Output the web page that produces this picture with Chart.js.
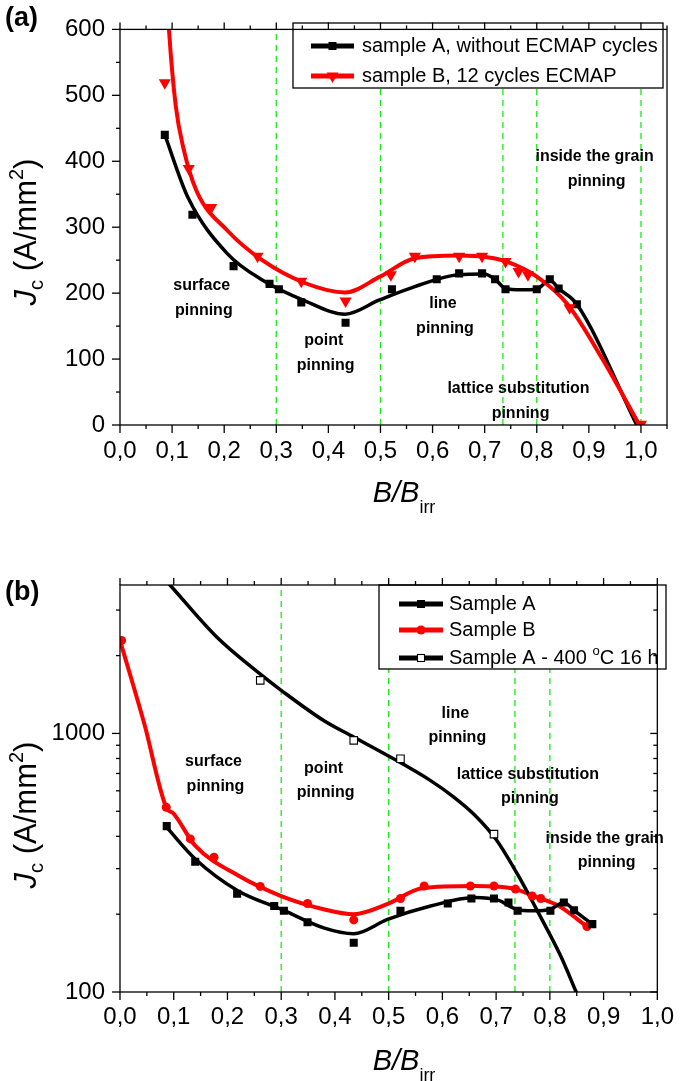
<!DOCTYPE html>
<html><head><meta charset="utf-8">
<script src="https://cdn.jsdelivr.net/npm/chart.js@4"></script>
<style>
html,body{margin:0;padding:0;background:#fff;}
#wrap{position:relative;width:685px;height:1081px;overflow:hidden;background:#fff;}
canvas{position:absolute;left:0;display:block;}
#ca{top:0;}
#cb{top:540px;}
</style></head><body>
<div id="wrap">
<canvas id="ca" width="685" height="540"></canvas>
<canvas id="cb" width="685" height="541"></canvas>
</div>
<script>
// ================= DATA =================
// Panel (a) — linear Jc scale
const a_xTickVals   = [0,0.1,0.2,0.3,0.4,0.5,0.6,0.7,0.8,0.9,1.0];
const a_xTickLabels = ['0,0','0,1','0,2','0,3','0,4','0,5','0,6','0,7','0,8','0,9','1,0'];
const a_yTickVals   = [0,100,200,300,400,500,600];
const a_yTickLabels = ['0','100','200','300','400','500','600'];
const a_regionBounds = [0.3,0.5,0.735,0.8,1.0];

const a_sampleA_x = [0.086,0.139,0.218,0.287,0.305,0.348,0.433,0.522,0.608,0.651,0.695,0.720,0.740,0.800,0.825,0.842,0.877];
const a_sampleA_y = [440,319,241,214,206,186,155,206,221,230,230,221,206,206,221,207,183];
const a_sampleB_x = [0.086,0.132,0.175,0.264,0.348,0.433,0.520,0.566,0.651,0.695,0.740,0.765,0.783,0.863,1.0];
const a_sampleB_y = [519,389,330,256,218,188,228,256,256,256,248,233,228,178,1];

const a_fitA_x = [0.086,0.1305,0.206,0.273,0.356,0.432,0.499,0.566,0.649,0.699,0.720,0.740,0.770,0.800,0.825,0.842,0.877,0.992];
const a_fitA_y = [440,345,260,220,188,168,190,210,228,229,221,207,205,206,220,207,183,0];
const a_fitB_x = [0.090,0.094,0.107,0.122,0.147,0.206,0.273,0.356,0.432,0.499,0.566,0.649,0.708,0.741,0.800,0.859,0.926,0.997];
const a_fitB_y = [660,600,484,419,355,295,250,215,201,225,253,257,254,248,225,183,100,0];

const a_legendLabels = ['sample A, without ECMAP cycles','sample B, 12 cycles ECMAP'];
const a_regionLabels = [['surface','pinning'],['point','pinning'],['line','pinning'],['lattice substitution','pinning'],['inside the grain','pinning']];

// Panel (b) — logarithmic Jc scale
const b_xTickVals   = [0,0.1,0.2,0.3,0.4,0.5,0.6,0.7,0.8,0.9,1.0];
const b_xTickLabels = ['0,0','0,1','0,2','0,3','0,4','0,5','0,6','0,7','0,8','0,9','1,0'];
const b_yTickVals   = [100,1000];
const b_yTickLabels = ['100','1000'];
const b_yMinorVals  = [200,300,400,500,600,700,800,900,2000,3000];
const b_regionBounds = [0.3,0.5,0.735,0.8];

const b_sampleA_x = [0.087,0.140,0.218,0.287,0.305,0.349,0.435,0.522,0.610,0.654,0.696,0.723,0.740,0.801,0.826,0.845,0.879];
const b_sampleA_y = [438,319,240,215,206,186,155,206,220,230,230,222,206,206,222,207,183];
const b_sampleB_x = [0.003,0.086,0.131,0.175,0.261,0.349,0.435,0.522,0.566,0.652,0.696,0.736,0.767,0.783,0.869];
const b_sampleB_y = [2290,518,391,332,256,220,190,230,257,257,257,250,235,230,179];
const b_sampleC_x = [0.261,0.435,0.522,0.696];
const b_sampleC_y = [1604,940,798,408];

const b_fitA_x = [0.087,0.140,0.220,0.300,0.379,0.435,0.498,0.578,0.660,0.705,0.737,0.770,0.801,0.826,0.845,0.879];
const b_fitA_y = [433,327,246,209,177,168,191,215,232,226,209,206,209,222,207,183];
const b_fitB_x = [0.000,0.045,0.086,0.100,0.140,0.220,0.300,0.379,0.435,0.498,0.562,0.660,0.729,0.777,0.817,0.869];
const b_fitB_y = [2290,1094,518,489,368,282,235,209,200,219,252,257,252,232,215,179];
const b_fitC_x = [0.070,0.093,0.180,0.260,0.300,0.379,0.435,0.498,0.578,0.620,0.660,0.700,0.740,0.780,0.820,0.849,0.870];
const b_fitC_y = [4230,3750,2360,1702,1468,1122,968,822,657,570,484,389,285,200,138,100,79];

const b_legendLabels = ['Sample A','Sample B','Sample A - 400 '];
const b_regionLabels = [['surface','pinning'],['point','pinning'],['line','pinning'],['lattice substitution','pinning'],['inside the grain','pinning']];

// ================= RENDERING =================
const FONT = "'Liberation Sans', Arial, Helvetica, sans-serif";
Chart.defaults.font.family = FONT;
Chart.defaults.color = '#000';

const pts = (xs, ys) => xs.map((x, i) => ({x: x, y: ys[i]}));
const GREEN = '#14ee14';

function line(ctx, x0, y0, x1, y1) { ctx.beginPath(); ctx.moveTo(x0, y0); ctx.lineTo(x1, y1); ctx.stroke(); }

function marker(ctx, kind, x, y, color) {
  ctx.save();
  ctx.fillStyle = color; ctx.strokeStyle = color;
  if (kind === 'square') { ctx.fillRect(x - 4, y - 4, 8, 8); }
  else if (kind === 'tri') { ctx.beginPath(); ctx.moveTo(x - 6, y - 3.5); ctx.lineTo(x + 6, y - 3.5); ctx.lineTo(x, y + 7); ctx.closePath(); ctx.fill(); }
  else if (kind === 'circle') { ctx.beginPath(); ctx.arc(x, y, 4.5, 0, Math.PI * 2); ctx.fill(); }
  else if (kind === 'open') { ctx.fillStyle = '#fff'; ctx.fillRect(x - 3.5, y - 3.5, 7, 7); ctx.strokeStyle = '#000'; ctx.lineWidth = 1.1; ctx.strokeRect(x - 3.5, y - 3.5, 7, 7); }
  ctx.restore();
}

function drawLegend(ctx, L) {
  ctx.save();
  ctx.fillStyle = '#fff';
  ctx.fillRect(L.x, L.y, L.w, L.h);
  ctx.strokeStyle = '#000'; ctx.lineWidth = 1.3;
  ctx.strokeRect(L.x, L.y, L.w, L.h);
  L.items.forEach(it => {
    ctx.strokeStyle = it.color; ctx.lineWidth = 5;
    line(ctx, L.lx0, it.y, L.lx1, it.y);
    marker(ctx, it.marker, (L.lx0 + L.lx1) / 2, it.y, it.color);
    ctx.fillStyle = '#000'; ctx.font = `20px ${FONT}`;
    ctx.textAlign = 'left'; ctx.textBaseline = 'middle';
    ctx.fillText(it.text, L.tx, it.y);
    if (it.sup) {
      let x = L.tx + ctx.measureText(it.text).width;
      ctx.font = `13px ${FONT}`;
      ctx.fillText('o', x, it.y - 7);
      x += ctx.measureText('o').width;
      ctx.font = `20px ${FONT}`;
      ctx.fillText(it.sup, x, it.y);
    }
  });
  ctx.restore();
}

function drawYTitle(ctx, cx, cy) {
  ctx.save();
  ctx.translate(cx, cy);
  ctx.rotate(-Math.PI / 2);
  const parts = [
    {t: 'J', f: `italic 31px ${FONT}`, dy: 0},
    {t: 'c', f: `20px ${FONT}`, dy: 7},
    {t: ' (A/mm', f: `31px ${FONT}`, dy: 0},
    {t: '2', f: `20px ${FONT}`, dy: -13},
    {t: ')', f: `31px ${FONT}`, dy: 0}
  ];
  let w = 0;
  parts.forEach(p => { ctx.font = p.f; p.w = ctx.measureText(p.t).width; w += p.w; });
  let x = -w / 2;
  ctx.fillStyle = '#000'; ctx.textBaseline = 'alphabetic'; ctx.textAlign = 'left';
  parts.forEach(p => { ctx.font = p.f; ctx.fillText(p.t, x, p.dy); x += p.w; });
  ctx.restore();
}

function drawXTitle(ctx, cx, by) {
  ctx.save();
  ctx.fillStyle = '#000'; ctx.textBaseline = 'alphabetic'; ctx.textAlign = 'left';
  ctx.font = `italic 29px ${FONT}`;
  const w1 = ctx.measureText('B/B').width;
  ctx.font = `18px ${FONT}`;
  const w2 = ctx.measureText('irr').width;
  const x = cx - (w1 + w2) / 2;
  ctx.font = `italic 29px ${FONT}`;
  ctx.fillText('B/B', x, by);
  ctx.font = `18px ${FONT}`;
  ctx.fillText('irr', x + w1, by + 11);
  ctx.restore();
}

function panelPlugin(P) {
  return {
    id: 'panel_' + P.name,
    afterDatasetsDraw(chart) {
      const ctx = chart.ctx, ca = chart.chartArea, xs = chart.scales.x, ys = chart.scales.y;
      // region labels
      ctx.save();
      ctx.fillStyle = '#000';
      ctx.font = `bold 16px ${FONT}`;
      ctx.textAlign = 'center'; ctx.textBaseline = 'middle';
      P.notePos.forEach((n, i) => {
        const px = xs.getPixelForValue(n[0]), py = ys.getPixelForValue(n[1]);
        const lines = P.noteTexts[i];
        lines.forEach((t, k) => ctx.fillText(t, px + k * 2, py + (k - (lines.length - 1) / 2) * P.noteGap));
      });
      ctx.restore();
      // legend
      drawLegend(ctx, P.legend);
      // frame
      ctx.save();
      ctx.strokeStyle = '#000'; ctx.lineWidth = 1.3;
      ctx.strokeRect(ca.left, ca.top, ca.right - ca.left, ca.bottom - ca.top);
      // x ticks (bottom + top, outward)
      for (let k = 0; k <= P.xMajorCount; k++) {
        const v = k / 10;
        const px = xs.getPixelForValue(v);
        line(ctx, px, ca.bottom, px, ca.bottom + 8);
        line(ctx, px, ca.top, px, ca.top - 7);
      }
      for (let k = 0; k < P.xMinorCount; k++) {
        const v = 0.05 + k / 10;
        const px = xs.getPixelForValue(v);
        line(ctx, px, ca.bottom, px, ca.bottom + 4);
        line(ctx, px, ca.top, px, ca.top - 4);
      }
      // y ticks
      P.yMajor.forEach(v => {
        const py = ys.getPixelForValue(v);
        line(ctx, ca.left, py, ca.left - 8, py);
        if (P.rightTicks) line(ctx, ca.right, py, ca.right - 7, py);
      });
      P.yMinor.forEach(v => {
        const py = ys.getPixelForValue(v);
        line(ctx, ca.left, py, ca.left - 4, py);
        if (P.rightTicks) line(ctx, ca.right, py, ca.right - 4, py);
      });
      ctx.restore();
      // axis titles & panel letter
      drawYTitle(ctx, P.yTitle[0], P.yTitle[1]);
      drawXTitle(ctx, P.xTitle[0], P.xTitle[1]);
      ctx.save();
      ctx.fillStyle = '#000'; ctx.font = `bold 27px ${FONT}`;
      ctx.textAlign = 'left'; ctx.textBaseline = 'middle';
      ctx.fillText(P.letter, 5, P.letterY);
      ctx.restore();
    }
  };
}

function boundaryDatasets(bounds, y0, y1) {
  return bounds.map(b => ({
    data: [{x: b, y: y0}, {x: b, y: y1}], showLine: true, borderColor: GREEN, borderWidth: 1.3,
    borderDash: [6, 5], pointRadius: 0, order: 20
  }));
}
function fitDs(xs, ys, color, order, w) {
  return {data: pts(xs, ys), showLine: true, borderColor: color, borderWidth: w,
    cubicInterpolationMode: 'monotone', pointRadius: 0, order: order};
}
function markDs(xs, ys, style, r, fill, stroke, bw, order, rot) {
  return {data: pts(xs, ys), showLine: false, pointStyle: style, pointRadius: r,
    pointBackgroundColor: fill, pointBorderColor: stroke, pointBorderWidth: bw,
    pointRotation: rot || 0, order: order};
}

function makeChart(id, P) {
  return new Chart(document.getElementById(id), {
    type: 'scatter',
    data: {datasets: P.datasets},
    options: {
      responsive: false, animation: false, events: [],
      layout: {padding: {top: P.padTop, right: P.padRight, left: 0, bottom: 0}},
      plugins: {legend: {display: false}, tooltip: {enabled: false}},
      scales: {
        x: {
          type: 'linear', min: 0, max: P.xMax,
          grid: {display: false, drawTicks: false}, border: {display: false},
          afterBuildTicks: s => { s.ticks = P.xTickVals.map(v => ({value: v})); },
          afterFit: s => { s.height = P.xAxisH; },
          ticks: {autoSkip: false, maxRotation: 0, padding: P.xPad, font: {size: 24}, color: '#000',
            callback: (v, i) => P.xTickLabels[i]}
        },
        y: {
          type: P.yType, min: P.yMin, max: P.yMax,
          grid: {display: false, drawTicks: false}, border: {display: false},
          afterBuildTicks: s => { s.ticks = P.yTickVals.map(v => ({value: v})); },
          afterFit: s => { s.width = 120; },
          ticks: {autoSkip: false, padding: 15, font: {size: 24}, color: '#000',
            callback: (v, i) => P.yTickLabels[i]}
        }
      }
    },
    plugins: [panelPlugin(P)]
  });
}

// ---- Panel (a) ----
const aMinor = [];
for (let k = 0; k < 6; k++) aMinor.push(50 + 100 * k);
makeChart('ca', {
  name: 'a', letter: '(a)', letterY: 19,
  padTop: 23, padRight: 18, xAxisH: 115, xPad: 12, xMax: 1.05,
  yType: 'linear', yMin: 0, yMax: 600,
  xTickVals: a_xTickVals, xTickLabels: a_xTickLabels,
  yTickVals: a_yTickVals, yTickLabels: a_yTickLabels,
  xMajorCount: 10, xMinorCount: 11, yMajor: a_yTickVals, yMinor: aMinor, rightTicks: false,
  noteTexts: a_regionLabels,
  notePos: [[0.157, 192], [0.391, 109], [0.620, 165], [0.765, 36], [0.911, 388]], noteGap: 25,
  legend: {x: 293, y: 23, w: 370, h: 65, lx0: 311, lx1: 354, tx: 362,
    items: [{y: 46, color: '#000', marker: 'square', text: a_legendLabels[0]},
            {y: 76, color: '#ff0000', marker: 'tri', text: a_legendLabels[1]}]},
  yTitle: [36, 232], xTitle: [404, 502],
  datasets: [
    markDs(a_sampleB_x, a_sampleB_y, 'triangle', 7, '#ff0000', '#ff0000', 0, 1, 180),
    markDs(a_sampleA_x, a_sampleA_y, 'rect', 5.7, '#000', '#000', 0, 2),
    fitDs(a_fitB_x, a_fitB_y, '#ff0000', 3, 4),
    fitDs(a_fitA_x, a_fitA_y, '#000', 4, 3.5),
    ...boundaryDatasets(a_regionBounds, 0, 600)
  ]
});

// ---- Panel (b) ----
makeChart('cb', {
  name: 'b', letter: '(b)', letterY: 53,
  padTop: 45, padRight: 16, xAxisH: 89, xPad: 11, xMax: 1.0,
  yType: 'logarithmic', yMin: 100, yMax: 3750,
  xTickVals: b_xTickVals, xTickLabels: b_xTickLabels,
  yTickVals: b_yTickVals, yTickLabels: b_yTickLabels,
  xMajorCount: 10, xMinorCount: 10, yMajor: b_yTickVals, yMinor: b_yMinorVals, rightTicks: true,
  noteTexts: b_regionLabels,
  notePos: [[0.174, 696], [0.379, 656], [0.624, 1074], [0.759, 624], [0.902, 352]], noteGap: 24.5,
  legend: {x: 379, y: 45, w: 287, h: 84, lx0: 399, lx1: 443, tx: 449,
    items: [{y: 64, color: '#000', marker: 'square', text: b_legendLabels[0]},
            {y: 90, color: '#ff0000', marker: 'circle', text: b_legendLabels[1]},
            {y: 118, color: '#000', marker: 'open', text: b_legendLabels[2], sup: 'C 16 h'}]},
  yTitle: [36, 275], xTitle: [404, 530],
  datasets: [
    markDs(b_sampleC_x, b_sampleC_y, 'rect', 5.3, '#fff', '#000', 1.1, 0),
    markDs(b_sampleA_x, b_sampleA_y, 'rect', 5.7, '#000', '#000', 0, 1),
    markDs(b_sampleB_x, b_sampleB_y, 'circle', 4.5, '#ff0000', '#ff0000', 0, 2),
    fitDs(b_fitC_x, b_fitC_y, '#000', 3, 3.5),
    fitDs(b_fitA_x, b_fitA_y, '#000', 4, 3.5),
    fitDs(b_fitB_x, b_fitB_y, '#ff0000', 5, 4),
    ...boundaryDatasets(b_regionBounds, 100, 3750)
  ]
});
</script>
</body></html>
